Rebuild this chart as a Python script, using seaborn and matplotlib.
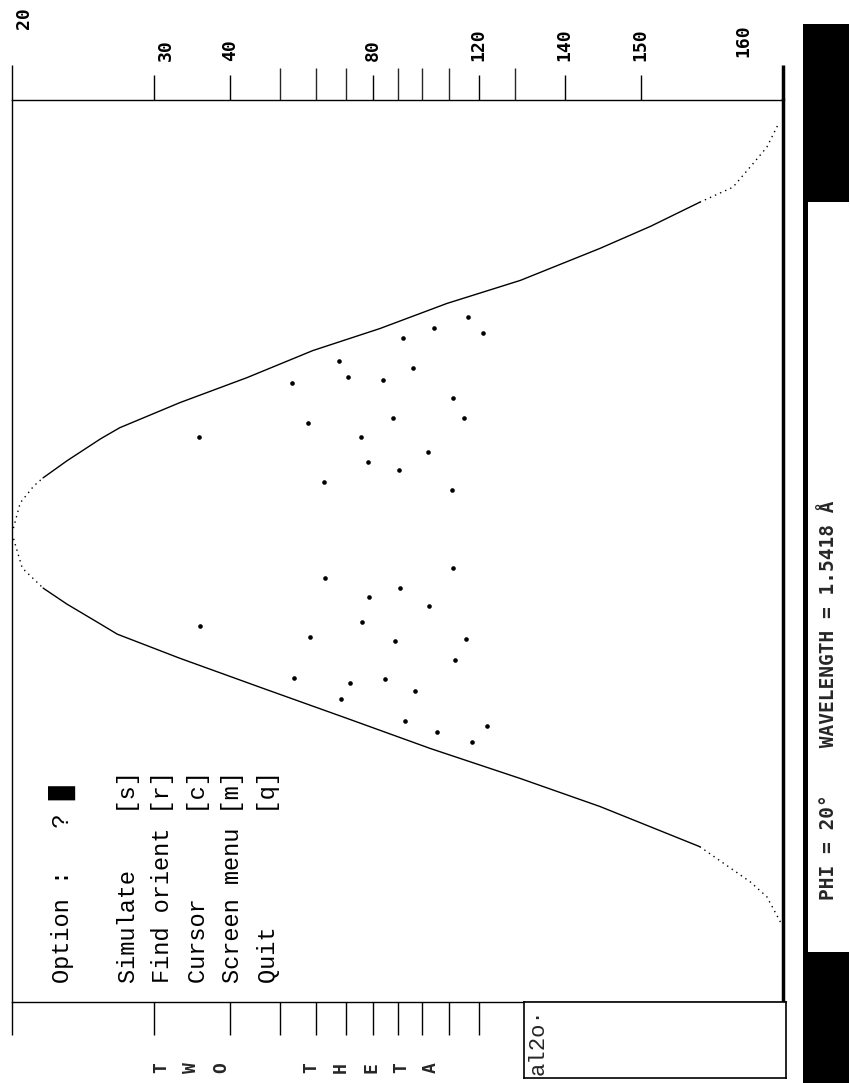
import numpy as np
import matplotlib
matplotlib.use("Agg")
import matplotlib.pyplot as plt
from matplotlib.transforms import ScaledTranslation
import seaborn as sns

# screenshot size in pixels
W, H = 850, 1083

#########
# Data  #
#########

# limiting curve, two theta (deg) against psi (deg), upper and lower branch
upper_2theta = [20.0, 20.4, 21.1, 21.6, 23.0, 25.3, 26.8, 32.8, 43.0, 58.9, 82.9,
                109.4, 131.2, 145.3, 151.0, 155.1, 157.3, 158.3, 159.2, 159.8]
upper_psi = [-3.5, -9.6, -13.0, -14.6, -18.0, -22.4, -24.6, -29.6, -34.6, -40.0, -44.4,
             -49.4, -54.0, -60.4, -64.8, -69.6, -72.6, -76.6, -80.6, -85.4]
lower_2theta = [20.0, 20.5, 21.6, 23.0, 25.3, 26.6, 32.8, 46.2, 70.2, 103.1,
                131.2, 145.3, 155.1, 158.3, 159.2, 160.0]
lower_psi = [-3.5, 3.4, 7.4, 10.6, 14.6, 16.6, 21.4, 27.4, 33.4, 39.4,
             45.4, 51.0, 59.0, 66.0, 69.0, 75.0]

# simulated reflections
refl_2theta = [116.6, 104.7, 121.4, 92.2, 67.3, 96.3, 53.0, 70.5, 84.1, 111.7,
               88.3, 115.4, 57.6, 35.2, 75.4, 102.3, 78.3, 90.6, 62.4, 111.3,
               111.5, 62.6, 90.9, 78.7, 102.8, 35.4, 75.8, 58.0, 89.0, 115.9,
               112.2, 53.6, 71.3, 84.9, 97.3, 67.9, 93.0, 105.6, 122.6, 118.0]
refl_psi = [-46.7, -44.6, -43.6, -42.5, -37.9, -36.5, -33.5, -34.7, -34.1, -30.6,
            -26.6, -26.5, -25.5, -22.8, -22.7, -19.7, -17.8, -16.1, -13.8, -12.2,
            3.3, 5.4, 7.3, 9.2, 10.9, 14.9, 14.2, 17.1, 18.0, 17.6,
            21.8, 25.3, 26.3, 25.5, 27.9, 29.5, 34.0, 36.1, 34.9, 38.2]

# two theta axis ticks
label_ticks = [20, 30, 40, 80, 120, 140, 150, 160]
tick_labels = ["20", "30", "40", "80", "120", "140", "150", "160"]
minor_ticks = [50, 60, 70, 90, 100, 110, 130]
bottom_ticks = [20, 30, 40, 50, 60, 70, 80, 90, 100, 110, 120]

menu_lines = ["Simulate    [s]", "Find orient [r]", "Cursor      [c]",
              "Screen menu [m]", "Quit        [q]"]
axis_letters = ["T", "W", "O", "T", "H", "E", "T", "A"]
axis_slots = [0, 1, 2, 5, 6, 7, 8, 9]


# display position along the two theta axis goes as tan(2theta - 90)
def fwd(x):
    return np.tan(np.radians(np.asarray(x, dtype=float) - 90.0))


def inv(t):
    return np.degrees(np.arctan(np.asarray(t, dtype=float))) + 90.0


def box(x0, y0, x1, y1):
    # pixel rectangle of the screenshot -> figure fraction
    return [x0 / W, 1 - y1 / H, (x1 - x0) / W, (y1 - y0) / H]


def fx(px):
    return px / W


def fy(py):
    return 1 - py / H


sns.set_style("white")
plt.rcParams["font.family"] = ["DejaVu Sans Mono", "DejaVu Sans"]

fig = plt.figure(figsize=(W / 100, H / 100), dpi=100)

#############
# Main plot #
#############

ax = fig.add_axes(box(12, 100, 783, 1002))
ax.set_xscale("function", functions=(fwd, inv))

# twin axes only carries the unlabeled ticks under the plot
# (twiny moves the parent ticks to the bottom, so it is made first)
ax_b = ax.twiny()
ax_b.set_xscale("function", functions=(fwd, inv))

line_kw = dict(color="black", linewidth=1.0, sort=False, estimator=None, ax=ax)
dot_style = (0, (1, 3))
# upper branch: dotted near the apex and the tail, solid in between
sns.lineplot(x=upper_2theta[:4], y=upper_psi[:4], linestyle=dot_style, **line_kw)
sns.lineplot(x=upper_2theta[3:16], y=upper_psi[3:16], **line_kw)
sns.lineplot(x=upper_2theta[15:], y=upper_psi[15:], linestyle=dot_style, **line_kw)
# lower branch
sns.lineplot(x=lower_2theta[:3], y=lower_psi[:3], linestyle=dot_style, **line_kw)
sns.lineplot(x=lower_2theta[2:13], y=lower_psi[2:13], **line_kw)
sns.lineplot(x=lower_2theta[12:], y=lower_psi[12:], linestyle=dot_style, **line_kw)

sns.scatterplot(x=refl_2theta, y=refl_psi, color="black", s=11, linewidth=0, ax=ax)

ax.set_xlim(20, 160)
ax.set_ylim(90, -90)
ax.set_yticks([])
ax.set_xlabel("")
ax.set_ylabel("")

ax.xaxis.set_ticks_position("top")
ax.set_xticks(label_ticks, labels=tick_labels)
ax.set_xticks(minor_ticks, minor=True)
ax.tick_params(axis="x", which="major", direction="out", length=18, width=1,
               pad=10, labelsize=13, labelrotation=90, colors="black")
ax.tick_params(axis="x", which="minor", direction="out", length=23, width=1)
for lbl in ax.get_xticklabels():
    lbl.set_fontweight("bold")

for spine in ax.spines.values():
    spine.set_color("black")
    spine.set_linewidth(1.0)
ax.spines["right"].set_linewidth(2.5)

# the frame lines run on past the axis as the 20 and 160 ticks,
# and a few labels sit off their ticks on the character grid
nudges = {20: (12, 32), 30: (11, 0), 160: (-40, 4)}
for tick, val in zip(ax.xaxis.get_major_ticks(), label_ticks):
    if val in (20, 160):
        tick.tick2line.set_markersize(25)
    if val == 160:
        tick.tick2line.set_markeredgewidth(2.5)
    if val in nudges:
        dx, dy = nudges[val]
        tick.label2.set_transform(tick.label2.get_transform()
                                  + ScaledTranslation(dx / 100, dy / 100, fig.dpi_scale_trans))

ax_b.set_xlim(20, 160)
ax_b.xaxis.set_ticks_position("bottom")
ax_b.set_xticks(bottom_ticks, labels=[])
ax_b.tick_params(axis="x", direction="out", length=24, width=1, colors="black")
for spine in ax_b.spines.values():
    spine.set_visible(False)

##################
# Screen overlay #
##################

menu_kw = dict(family=["Liberation Mono", "DejaVu Sans Mono"], size=17, rotation=90,
               rotation_mode="anchor", ha="left", va="center", color="black")
fig.text(fx(62), fy(983), "Option :   ? \u2588", **menu_kw)
for i, line in enumerate(menu_lines):
    fig.text(fx(128 + 35 * i), fy(983), line, **menu_kw)

# "TWO THETA" stacked one letter per text row
for letter, slot in zip(axis_letters, axis_slots):
    fig.text(fx(161 + 30 * slot), fy(1068), letter, rotation=90, ha="center", va="center",
             size=13, fontweight="bold", family="DejaVu Sans Mono")

# input field
ax_in = fig.add_axes(box(524, 1002, 786, 1078))
ax_in.set_xticks([])
ax_in.set_yticks([])
for spine in ax_in.spines.values():
    spine.set_linewidth(1.2)
    spine.set_color("black")
ax_in.text(0.055, 0.04, "al2o\u00b7", transform=ax_in.transAxes, rotation=90,
           rotation_mode="anchor", ha="left", va="center", size=16,
           family=["Liberation Mono", "DejaVu Sans Mono"])

# status bar
ax_bar = fig.add_axes(box(803, 24, 849, 1083))
ax_bar.set_facecolor("black")
ax_bar.set_xticks([])
ax_bar.set_yticks([])
for spine in ax_bar.spines.values():
    spine.set_visible(False)

ax_st = fig.add_axes(box(808, 202, 849, 952))
ax_st.set_facecolor("white")
ax_st.set_xticks([])
ax_st.set_yticks([])
for spine in ax_st.spines.values():
    spine.set_visible(False)
ax_st.text(0.5, 0.07, "PHI = 20\u00b0    WAVELENGTH = 1.5418 \u00c5", transform=ax_st.transAxes,
           rotation=90, rotation_mode="anchor", ha="left", va="center", size=14,
           fontweight="bold", family="DejaVu Sans Mono")

plt.savefig("out.png", dpi=100)
